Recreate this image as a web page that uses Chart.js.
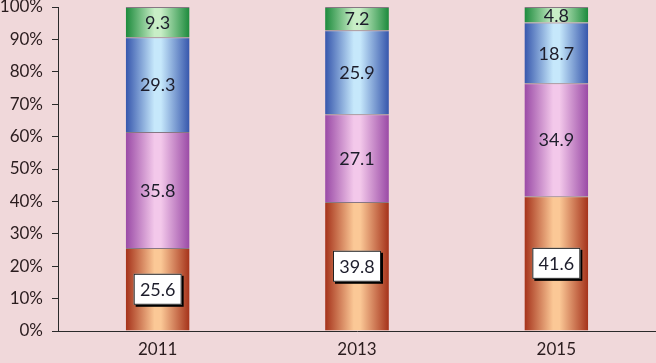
<!DOCTYPE html>
<html>
<head>
<meta charset="utf-8">
<script src="https://cdn.jsdelivr.net/npm/chart.js@4"></script>
<style>
  html, body { margin: 0; padding: 0; background: #f0d8da; }
  #wrap { width: 656px; height: 363px; }
</style>
</head>
<body>
<div id="wrap"><canvas id="chart" width="656" height="363"></canvas></div>
<script>
// ==== Data ====
const years = ["2011", "2013", "2015"];
const seriesA = [25.6, 39.8, 41.6];   // bottom (orange)
const seriesB = [35.8, 27.1, 34.9];   // purple
const seriesC = [29.3, 25.9, 18.7];   // blue
const seriesD = [9.3, 7.2, 4.8];      // top (green)
const yTicks = [0, 10, 20, 30, 40, 50, 60, 70, 80, 90, 100];

const FONT = "Lato, 'Open Sans', sans-serif";
const TEXT = "#2a1c1e";
const BAR_PCT = 0.32;

// ==== cylinder-like horizontal gradient per bar ====
const cylinder = (dark, light) => ctx => {
  const chart = ctx.chart;
  const x = chart.scales.x;
  if (!chart.chartArea || !x) return light;
  const c = x.getPixelForValue(ctx.dataIndex);
  const w = x.width / years.length * BAR_PCT;
  const g = chart.ctx.createLinearGradient(c - w / 2, 0, c + w / 2, 0);
  g.addColorStop(0, dark);
  g.addColorStop(0.45, light);
  g.addColorStop(0.55, light);
  g.addColorStop(1, dark);
  return g;
};

// ==== value labels ====
const labelPlugin = {
  id: "valueLabels",
  afterDatasetsDraw(chart) {
    const ctx = chart.ctx;
    chart.data.datasets.forEach((ds, di) => {
      const meta = chart.getDatasetMeta(di);
      meta.data.forEach((bar, i) => {
        const cx = bar.x;
        const cy = (bar.y + bar.base) / 2;
        const txt = ds.data[i].toFixed(1);
        ctx.save();
        ctx.font = "18px " + FONT;
        ctx.textAlign = "center";
        ctx.textBaseline = "middle";
        if (di === 0) {
          const w = 48, h = 31;
          ctx.fillStyle = "#000";
          ctx.fillRect(cx - w / 2 + 2, cy - h / 2 + 2, w, h);
          ctx.fillStyle = "#fff";
          ctx.fillRect(cx - w / 2, cy - h / 2, w, h);
          ctx.strokeStyle = "#222";
          ctx.lineWidth = 1;
          ctx.strokeRect(cx - w / 2 + 0.5, cy - h / 2 + 0.5, w - 1, h - 1);
        }
        ctx.fillStyle = "#1d1d2b";
        ctx.fillText(txt, cx, cy + 1);
        ctx.restore();
      });
    });
  }
};

const mk = (label, data, dark, light) => ({
  label, data,
  backgroundColor: cylinder(dark, light),
  borderColor: "rgba(50,40,60,0.55)",
  borderWidth: { top: 1, left: 0, right: 0, bottom: 0 },
  borderSkipped: "bottom",
  barPercentage: BAR_PCT,
  categoryPercentage: 1
});

new Chart(document.getElementById("chart"), {
  type: "bar",
  data: {
    labels: years,
    datasets: [
      mk("A", seriesA, "#a5321a", "#fbc896"),
      mk("B", seriesB, "#9a4aa6", "#f3c8ea"),
      mk("C", seriesC, "#3656ac", "#c6e8fb"),
      mk("D", seriesD, "#1c8a3c", "#c8eec6")
    ]
  },
  options: {
    responsive: false,
    animation: false,
    layout: { padding: { top: 7, right: 0, left: 0, bottom: 0 } },
    plugins: { legend: { display: false }, tooltip: { enabled: false } },
    scales: {
      x: {
        stacked: true,
        grid: { display: false, drawTicks: false },
        border: { display: true, color: "#2a2a2a", width: 1 },
        ticks: { color: TEXT, font: { family: FONT, size: 17 }, padding: 8 },
        afterFit: s => { s.height = 32; s.paddingLeft = 0; s.paddingRight = 0; }
      },
      y: {
        stacked: true,
        min: 0, max: 100,
        afterBuildTicks: s => { s.ticks = yTicks.map(v => ({ value: v })); },
        grid: { drawOnChartArea: false, drawTicks: true, tickLength: 6, color: "#2a2a2a" },
        border: { display: true, color: "#2a2a2a", width: 1 },
        ticks: { color: TEXT, font: { family: FONT, size: 17 }, padding: 9, callback: v => v + "%" },
        afterFit: s => { s.width = 58; s.paddingTop = 0; s.paddingBottom = 0; }
      }
    }
  },
  plugins: [labelPlugin]
});
</script>
</body>
</html>
